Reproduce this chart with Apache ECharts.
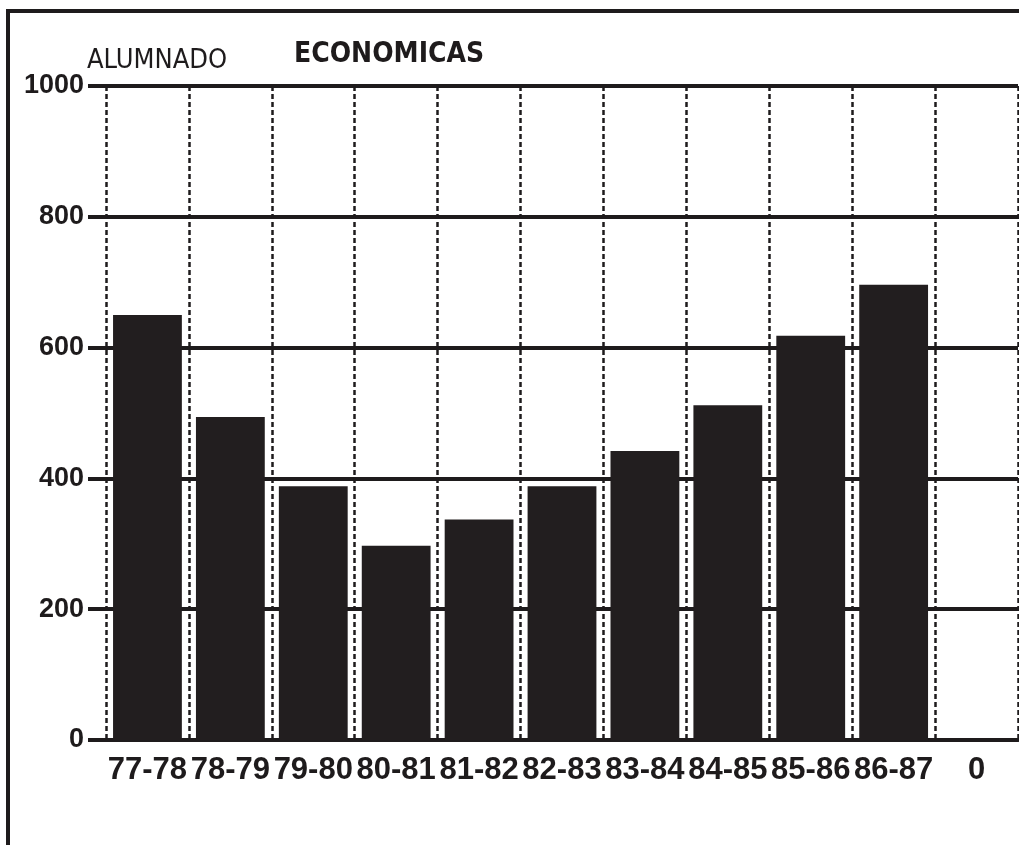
<!DOCTYPE html>
<html>
<head>
<meta charset="utf-8">
<script src="https://cdn.jsdelivr.net/npm/echarts@6/dist/echarts.min.js"></script>
<style>
html,body{margin:0;padding:0;background:#fff;}
#chart{width:1019px;height:845px;}
</style>
</head>
<body>
<div id="chart"></div>
<script>
const categories = ['77-78','78-79','79-80','80-81','81-82','82-83','83-84','84-85','85-86','86-87','0'];
const alumnado = [650, 494, 388, 297, 337, 388, 442, 512, 618, 696, 0];
const yTicks = [0, 200, 400, 600, 800, 1000];

const COND = '"DejaVu Sans Condensed", "Liberation Sans", sans-serif';
const NUM = '"Liberation Sans", Arial, sans-serif';
const INK = '#1e1b1c';

const chart = echarts.init(document.getElementById('chart'));
chart.setOption({
  animation: false,
  backgroundColor: '#ffffff',
  title: [
    { text: 'ALUMNADO', left: 82, top: 42,
      textStyle: { fontFamily: COND, fontSize: 27, fontWeight: 'normal', color: INK } },
    { text: 'ECONOMICAS', left: 289, top: 36,
      textStyle: { fontFamily: COND, fontSize: 28, fontWeight: 'bold', color: INK } }
  ],
  graphic: [
    { type: 'polyline', silent: true,
      shape: { points: [[8, 845], [8, 11], [1019, 11]] },
      style: { stroke: INK, lineWidth: 4, fill: null } }
  ],
  grid: { left: 106, right: 1, top: 86, bottom: 105, containLabel: false, outerBoundsMode: 'none' },
  xAxis: {
    type: 'category',
    data: categories,
    boundaryGap: true,
    axisLine: { show: true, lineStyle: { color: INK, width: 4 } },
    axisTick: { show: false },
    splitLine: { show: true, lineStyle: { color: INK, width: 2.5, type: [5, 3] } },
    axisLabel: { interval: 0, hideOverlap: false, margin: 15,
      fontFamily: NUM, fontSize: 31, fontWeight: 'bold', color: INK }
  },
  yAxis: {
    type: 'value',
    min: yTicks[0], max: yTicks[yTicks.length - 1], interval: 200,
    axisLine: { show: false },
    axisTick: { show: true, length: 18, lineStyle: { color: INK, width: 4 } },
    splitLine: { show: true, lineStyle: { color: INK, width: 4 } },
    axisLabel: { margin: 22, fontFamily: NUM, fontSize: 27, fontWeight: 'bold', color: INK,
      formatter: function (v) { return String(v); } }
  },
  series: [{
    type: 'bar',
    data: alumnado,
    barCategoryGap: '17%',
    itemStyle: { color: '#221e1f' }
  }]
});
</script>
</body>
</html>
